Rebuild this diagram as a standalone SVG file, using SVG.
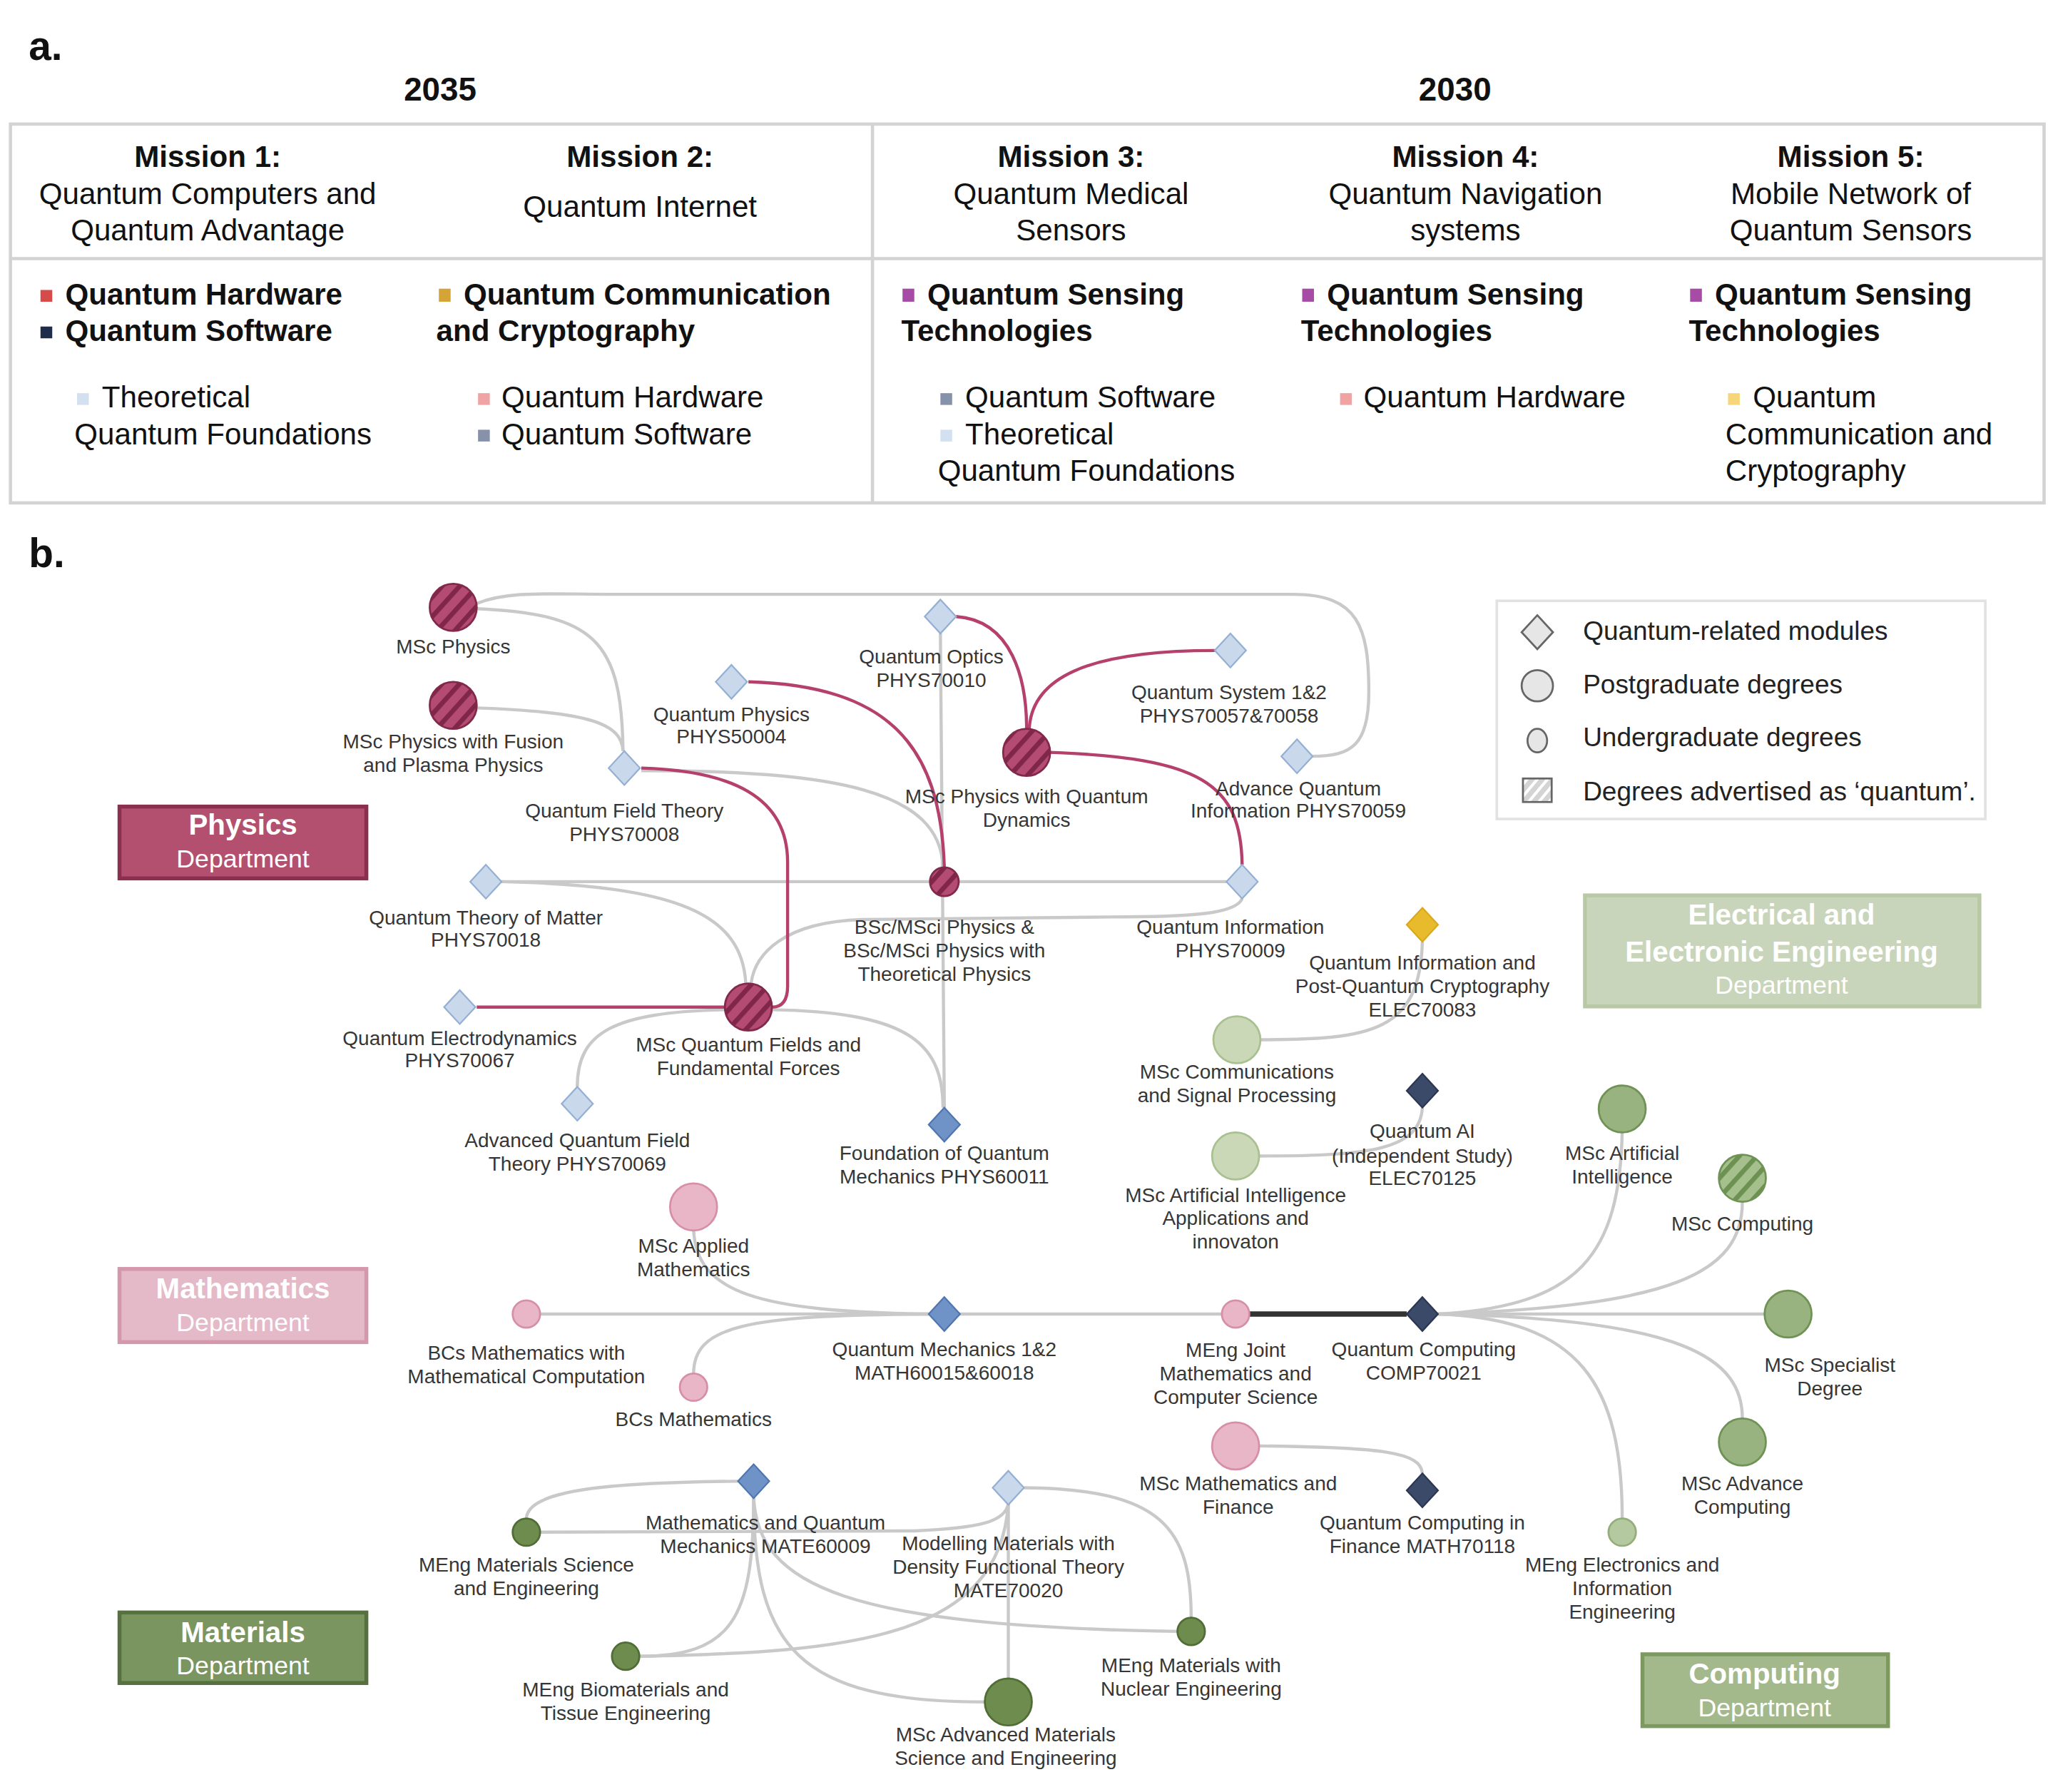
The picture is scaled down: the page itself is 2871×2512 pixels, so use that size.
<svg xmlns="http://www.w3.org/2000/svg" width="2871" height="2512" viewBox="0 0 2871 2512">
<defs>
<style>
text{font-family:"Liberation Sans",Arial,sans-serif}
.t{font-size:23px;fill:#111}
.tb{font-size:23px;font-weight:bold;fill:#111}
.tc{text-anchor:middle}
.lbl{font-size:15.3px;fill:#363636;text-anchor:middle}
.leg{font-size:20.2px;fill:#222}
.e{fill:none;stroke:#c9c9c9;stroke-width:2.4}
.r{fill:none;stroke:#b5406b;stroke-width:2.4}
.k{fill:none;stroke:#333;stroke-width:4}
.grid{fill:none;stroke:#d3d3d3;stroke-width:2.5}
.mod{fill:#c9d8ea;stroke:#93afd3;stroke-width:1.2}
.modd{fill:#6f93c6;stroke:#4f76b0;stroke-width:1.2}
.navy{fill:#3b4a68;stroke:#2a3652;stroke-width:1.2}
.gold{fill:#e8bb2c;stroke:#d9a91d;stroke-width:1.2}
.phy{fill:url(#hp);stroke:#82284b;stroke-width:1.5}
.pk{fill:#e8b6c6;stroke:#d78fa9;stroke-width:1.5}
.eee{fill:#cad8b8;stroke:#a9c090;stroke-width:1.5}
.cg{fill:#98b380;stroke:#6f9255;stroke-width:1.5}
.cgh{fill:url(#hg);stroke:#6f9255;stroke-width:1.5}
.cgl{fill:#b5c9a0;stroke:#93ae7b;stroke-width:1.5}
.mg{fill:#6e8c4e;stroke:#4f6d35;stroke-width:1.5}
.sq{stroke:none}
.dh{font-size:22px;font-weight:bold;fill:#fff;text-anchor:middle}
.dd{font-size:19.5px;fill:#fff;text-anchor:middle}
</style>
<pattern id="hp" patternUnits="userSpaceOnUse" width="10" height="10" patternTransform="rotate(42)">
<rect width="10" height="10" fill="#b34b72"/>
<rect width="3.6" height="10" fill="#7f2649"/>
</pattern>
<pattern id="hg" patternUnits="userSpaceOnUse" width="10" height="10" patternTransform="rotate(42)">
<rect width="10" height="10" fill="#a6c08d"/>
<rect width="3.6" height="10" fill="#6d9152"/>
</pattern>
<pattern id="hl" patternUnits="userSpaceOnUse" width="6" height="6" patternTransform="rotate(40)">
<rect width="6" height="6" fill="#d4d4d4"/>
<rect width="2.2" height="6" fill="#ffffff"/>
</pattern>
<path id="dia" d="M0,-13 L12,0 L0,13 L-12,0Z"/>
</defs>
<rect width="2871" height="2512" fill="#ffffff"/>
<g transform="scale(1.831)">

<g id="panel-a">
<text x="22" y="46" style="font-size:31px;font-weight:bold;fill:#111">a.</text>
<text x="337" y="77" class="tb tc" style="font-size:25px">2035</text>
<text x="1114" y="77" class="tb tc" style="font-size:25px">2030</text>
<rect x="8" y="95" width="1557" height="290" class="grid"/>
<line x1="668" y1="95" x2="668" y2="385" class="grid"/>
<line x1="8" y1="198" x2="1565" y2="198" class="grid"/>

<text x="159" y="128" class="tb tc">Mission 1:</text>
<text x="159" y="156" class="t tc">Quantum Computers and</text>
<text x="159" y="184" class="t tc">Quantum Advantage</text>
<text x="490" y="128" class="tb tc">Mission 2:</text>
<text x="490" y="166" class="t tc">Quantum Internet</text>
<text x="820" y="128" class="tb tc">Mission 3:</text>
<text x="820" y="156" class="t tc">Quantum Medical</text>
<text x="820" y="184" class="t tc">Sensors</text>
<text x="1122" y="128" class="tb tc">Mission 4:</text>
<text x="1122" y="156" class="t tc">Quantum Navigation</text>
<text x="1122" y="184" class="t tc">systems</text>
<text x="1417" y="128" class="tb tc">Mission 5:</text>
<text x="1417" y="156" class="t tc">Mobile Network of</text>
<text x="1417" y="184" class="t tc">Quantum Sensors</text>

<rect x="31" y="222" width="9" height="9" class="sq" fill="#d64a4a"/>
<text x="50" y="233" class="tb">Quantum Hardware</text>
<rect x="31" y="250" width="9" height="9" class="sq" fill="#1f2d4a"/>
<text x="50" y="261" class="tb">Quantum Software</text>
<rect x="59" y="301" width="9" height="9" class="sq" fill="#d3e0ef"/>
<text x="78" y="312" class="t">Theoretical</text>
<text x="57" y="340" class="t">Quantum Foundations</text>

<rect x="336" y="221" width="9" height="10" class="sq" fill="#d4a437"/>
<text x="355" y="233" class="tb">Quantum Communication</text>
<text x="334" y="261" class="tb">and Cryptography</text>
<rect x="366" y="301" width="9" height="9" class="sq" fill="#f0a3a3"/>
<text x="384" y="312" class="t">Quantum Hardware</text>
<rect x="366" y="329" width="9" height="9" class="sq" fill="#8592aa"/>
<text x="384" y="340" class="t">Quantum Software</text>

<rect x="691" y="221" width="9" height="10" class="sq" fill="#a64ca6"/>
<text x="710" y="233" class="tb">Quantum Sensing</text>
<text x="690" y="261" class="tb">Technologies</text>
<rect x="720" y="301" width="9" height="9" class="sq" fill="#8592aa"/>
<text x="739" y="312" class="t">Quantum Software</text>
<rect x="720" y="329" width="9" height="9" class="sq" fill="#d3e0ef"/>
<text x="739" y="340" class="t">Theoretical</text>
<text x="718" y="368" class="t">Quantum Foundations</text>

<rect x="997" y="221" width="9" height="10" class="sq" fill="#a64ca6"/>
<text x="1016" y="233" class="tb">Quantum Sensing</text>
<text x="996" y="261" class="tb">Technologies</text>
<rect x="1026" y="301" width="9" height="9" class="sq" fill="#f0a3a3"/>
<text x="1044" y="312" class="t">Quantum Hardware</text>

<rect x="1294" y="221" width="9" height="10" class="sq" fill="#a64ca6"/>
<text x="1313" y="233" class="tb">Quantum Sensing</text>
<text x="1293" y="261" class="tb">Technologies</text>
<rect x="1323" y="301" width="9" height="9" class="sq" fill="#f5d77a"/>
<text x="1342" y="312" class="t">Quantum</text>
<text x="1321" y="340" class="t">Communication and</text>
<text x="1321" y="368" class="t">Cryptography</text>
</g>

<text x="22" y="434" style="font-size:31px;font-weight:bold;fill:#111">b.</text>

<g id="legend">
<rect x="1146" y="460" width="374" height="167" fill="#fff" stroke="#e2e2e2" stroke-width="2"/>
<path d="M1177,471 L1189,484 L1177,497 L1165,484Z" fill="#e6e6e6" stroke="#666" stroke-width="1.5"/>
<text x="1212" y="490" class="leg">Quantum-related modules</text>
<circle cx="1177" cy="525" r="12" fill="#e6e6e6" stroke="#666" stroke-width="1.5"/>
<text x="1212" y="531" class="leg">Postgraduate degrees</text>
<ellipse cx="1177" cy="567" rx="7.5" ry="9" fill="#e6e6e6" stroke="#666" stroke-width="1.5"/>
<text x="1212" y="571" class="leg">Undergraduate degrees</text>
<rect x="1166" y="596" width="22" height="18" fill="url(#hl)" stroke="#666" stroke-width="1.5"/>
<text x="1212" y="613" class="leg">Degrees advertised as ‘quantum’.</text>
</g>

<g id="dept-physics">
<rect x="91.5" y="617.5" width="189" height="55" fill="#b4506f" stroke="#8a2f50" stroke-width="3"/>
<text x="186" y="639" class="dh">Physics</text>
<text x="186" y="664" class="dd">Department</text>
</g>
<g id="dept-math">
<rect x="91.5" y="971.5" width="189" height="56" fill="#e4b9c8" stroke="#d497ab" stroke-width="3"/>
<text x="186" y="994" class="dh">Mathematics</text>
<text x="186" y="1019" class="dd">Department</text>
</g>
<g id="dept-materials">
<rect x="91.5" y="1234.5" width="189" height="54" fill="#7a955f" stroke="#56703f" stroke-width="3"/>
<text x="186" y="1257" class="dh">Materials</text>
<text x="186" y="1282" class="dd">Department</text>
</g>
<g id="dept-eee">
<rect x="1213.5" y="685.5" width="302" height="85" fill="#c9d5ba" stroke="#b9c9a6" stroke-width="3"/>
<text x="1364" y="708" class="dh">Electrical and</text>
<text x="1364" y="736" class="dh">Electronic Engineering</text>
<text x="1364" y="761" class="dd">Department</text>
</g>
<g id="dept-computing">
<rect x="1257.5" y="1266.5" width="188" height="55" fill="#a4b98b" stroke="#7c9a60" stroke-width="3"/>
<text x="1351" y="1289" class="dh">Computing</text>
<text x="1351" y="1314" class="dd">Department</text>
</g>

<g id="connectors">
<path class="e" d="M365,462 C390,452 420,455 470,455 L990,455 C1040,455 1048,480 1048,530 C1048,570 1035,579 1005,579"/>
<path class="e" d="M365,466 C455,470 476,490 477,575"/>
<path class="e" d="M365,542 C455,545 476,555 477,575"/>
<path class="e" d="M491,590 C640,590 720,605 722,664"/>
<path class="e" d="M720,485 L723,848"/>
<path class="e" d="M384,675 L939,675"/>
<path class="e" d="M384,675 C520,678 568,700 571,753"/>
<path class="e" d="M951,688 C946,700 910,702 850,702 L660,704 C600,706 578,730 575,753"/>
<path class="e" d="M555,773 C470,775 442,790 442,832"/>
<path class="e" d="M591,773 C690,775 722,795 722,848"/>
<path class="r" d="M491,588 C560,590 603,610 603,660 L603,755 C603,767 598,771 591,771"/>
<path class="r" d="M573,522 C680,525 720,570 723,664"/>
<path class="r" d="M732,472 C775,475 786,520 786,558"/>
<path class="r" d="M930,498 C830,498 790,520 788,558"/>
<path class="r" d="M803,576 C920,580 950,600 951,662"/>
<path class="r" d="M365,771 L555,771"/>

<path class="e" d="M965,796 C1050,796 1087,790 1089,721"/>
<path class="e" d="M964,885 C1050,885 1087,880 1089,848"/>

<path class="e" d="M531,941 C533,990 580,1004 711,1006"/>
<path class="e" d="M531,1052 C531,1015 570,1007 711,1006"/>
<path class="e" d="M413,1006 L937,1006"/>
<path class="k" d="M956,1006 L1077,1006"/>
<path class="e" d="M964,1107 C1060,1108 1088,1112 1089,1128"/>

<path class="e" d="M1101,1006 C1210,1000 1240,960 1242,866"/>
<path class="e" d="M1101,1006 C1280,1000 1334,975 1334,920"/>
<path class="e" d="M1101,1006 L1351,1006"/>
<path class="e" d="M1101,1006 C1290,1010 1334,1040 1334,1086"/>
<path class="e" d="M1101,1006 C1210,1010 1242,1060 1242,1163"/>

<path class="e" d="M565,1134 C470,1135 403,1140 403,1163"/>
<path class="e" d="M413,1173 L700,1172 C750,1170 770,1165 772,1151"/>
<path class="e" d="M577,1146 C577,1240 560,1268 489,1268"/>
<path class="e" d="M489,1268 C650,1265 765,1255 772,1151"/>
<path class="e" d="M577,1146 C577,1260 610,1303 754,1303"/>
<path class="e" d="M577,1146 C580,1215 650,1245 902,1249"/>
<path class="e" d="M772,1151 L772,1285"/>
<path class="e" d="M784,1139 C890,1140 912,1170 912,1239"/>
</g>

<g id="n-msc-physics"><circle cx="347" cy="465" r="18" class="phy"/><text x="347" y="500" class="lbl">MSc Physics</text></g>
<g id="n-msc-fusion"><circle cx="347" cy="540" r="18" class="phy"/><text x="347" y="573" class="lbl">MSc Physics with Fusion</text><text x="347" y="591" class="lbl">and Plasma Physics</text></g>
<g id="n-qft"><use href="#dia" x="478" y="588" class="mod"/><text x="478" y="626" class="lbl">Quantum Field Theory</text><text x="478" y="644" class="lbl">PHYS70008</text></g>
<g id="n-qphys"><use href="#dia" x="560" y="522" class="mod"/><text x="560" y="552" class="lbl">Quantum Physics</text><text x="560" y="569" class="lbl">PHYS50004</text></g>
<g id="n-qoptics"><use href="#dia" x="720" y="472" class="mod"/><text x="713" y="508" class="lbl">Quantum Optics</text><text x="713" y="526" class="lbl">PHYS70010</text></g>
<g id="n-msc-qd"><circle cx="786" cy="576" r="18" class="phy"/><text x="786" y="615" class="lbl">MSc Physics with Quantum</text><text x="786" y="633" class="lbl">Dynamics</text></g>
<g id="n-qsys"><use href="#dia" x="942" y="498" class="mod"/><text x="941" y="535" class="lbl">Quantum System 1&amp;2</text><text x="941" y="553" class="lbl">PHYS70057&amp;70058</text></g>
<g id="n-aqi"><use href="#dia" x="993" y="579" class="mod"/><text x="994" y="609" class="lbl">Advance Quantum</text><text x="994" y="626" class="lbl">Information PHYS70059</text></g>
<g id="n-bsc-physics"><circle cx="723" cy="675" r="11" class="phy"/><text x="723" y="715" class="lbl">BSc/MSci Physics &amp;</text><text x="723" y="733" class="lbl">BSc/MSci Physics with</text><text x="723" y="751" class="lbl">Theoretical Physics</text></g>
<g id="n-qtm"><use href="#dia" x="372" y="675" class="mod"/><text x="372" y="708" class="lbl">Quantum Theory of Matter</text><text x="372" y="725" class="lbl">PHYS70018</text></g>
<g id="n-qi"><use href="#dia" x="951" y="675" class="mod"/><text x="942" y="715" class="lbl">Quantum Information</text><text x="942" y="733" class="lbl">PHYS70009</text></g>
<g id="n-msc-qf"><circle cx="573" cy="771" r="18" class="phy"/><text x="573" y="805" class="lbl">MSc Quantum Fields and</text><text x="573" y="823" class="lbl">Fundamental Forces</text></g>
<g id="n-qed"><use href="#dia" x="352" y="771" class="mod"/><text x="352" y="800" class="lbl">Quantum Electrodynamics</text><text x="352" y="817" class="lbl">PHYS70067</text></g>
<g id="n-aqft"><use href="#dia" x="442" y="845" class="mod"/><text x="442" y="878" class="lbl">Advanced Quantum Field</text><text x="442" y="896" class="lbl">Theory PHYS70069</text></g>
<g id="n-fqm"><use href="#dia" x="723" y="861" class="modd"/><text x="723" y="888" class="lbl">Foundation of Quantum</text><text x="723" y="906" class="lbl">Mechanics PHYS60011</text></g>

<g id="n-qipqc"><use href="#dia" x="1089" y="708" class="gold"/><text x="1089" y="742" class="lbl">Quantum Information and</text><text x="1089" y="760" class="lbl">Post-Quantum Cryptography</text><text x="1089" y="778" class="lbl">ELEC70083</text></g>
<g id="n-msc-comms"><circle cx="947" cy="796" r="18" class="eee"/><text x="947" y="826" class="lbl">MSc Communications</text><text x="947" y="844" class="lbl">and Signal Processing</text></g>
<g id="n-qai"><use href="#dia" x="1089" y="835" class="navy"/><text x="1089" y="871" class="lbl">Quantum AI</text><text x="1089" y="890" class="lbl">(Independent Study)</text><text x="1089" y="907" class="lbl">ELEC70125</text></g>
<g id="n-msc-aiapp"><circle cx="946" cy="885" r="18" class="eee"/><text x="946" y="920" class="lbl">MSc Artificial Intelligence</text><text x="946" y="938" class="lbl">Applications and</text><text x="946" y="956" class="lbl">innovaton</text></g>

<g id="n-msc-ai"><circle cx="1242" cy="849" r="18" class="cg"/><text x="1242" y="888" class="lbl">MSc Artificial</text><text x="1242" y="906" class="lbl">Intelligence</text></g>
<g id="n-msc-computing"><circle cx="1334" cy="902" r="18" class="cgh"/><text x="1334" y="942" class="lbl">MSc Computing</text></g>
<g id="n-msc-specialist"><circle cx="1369" cy="1006" r="18" class="cg"/><text x="1401" y="1050" class="lbl">MSc Specialist</text><text x="1401" y="1068" class="lbl">Degree</text></g>
<g id="n-msc-advcomp"><circle cx="1334" cy="1104" r="18" class="cg"/><text x="1334" y="1141" class="lbl">MSc Advance</text><text x="1334" y="1159" class="lbl">Computing</text></g>
<g id="n-meng-elec"><circle cx="1242" cy="1173" r="10.5" class="cgl"/><text x="1242" y="1203" class="lbl">MEng Electronics and</text><text x="1242" y="1221" class="lbl">Information</text><text x="1242" y="1239" class="lbl">Engineering</text></g>

<g id="n-msc-appmath"><circle cx="531" cy="924" r="18" class="pk"/><text x="531" y="959" class="lbl">MSc Applied</text><text x="531" y="977" class="lbl">Mathematics</text></g>
<g id="n-bcs-mathcomp"><circle cx="403" cy="1006" r="10.5" class="pk"/><text x="403" y="1041" class="lbl">BCs Mathematics with</text><text x="403" y="1059" class="lbl">Mathematical Computation</text></g>
<g id="n-bcs-math"><circle cx="531" cy="1062" r="10.5" class="pk"/><text x="531" y="1092" class="lbl">BCs Mathematics</text></g>
<g id="n-qm12"><use href="#dia" x="723" y="1006" class="modd"/><text x="723" y="1038" class="lbl">Quantum Mechanics 1&amp;2</text><text x="723" y="1056" class="lbl">MATH60015&amp;60018</text></g>
<g id="n-meng-joint"><circle cx="946" cy="1006" r="10.5" class="pk"/><text x="946" y="1039" class="lbl">MEng Joint</text><text x="946" y="1057" class="lbl">Mathematics and</text><text x="946" y="1075" class="lbl">Computer Science</text></g>
<g id="n-qc"><use href="#dia" x="1089" y="1006" class="navy"/><text x="1090" y="1038" class="lbl">Quantum Computing</text><text x="1090" y="1056" class="lbl">COMP70021</text></g>
<g id="n-msc-mathfin"><circle cx="946" cy="1107" r="18" class="pk"/><text x="948" y="1141" class="lbl">MSc Mathematics and</text><text x="948" y="1159" class="lbl">Finance</text></g>
<g id="n-qcf"><use href="#dia" x="1089" y="1141" class="navy"/><text x="1089" y="1171" class="lbl">Quantum Computing in</text><text x="1089" y="1189" class="lbl">Finance MATH70118</text></g>

<g id="n-mate60009"><use href="#dia" x="577" y="1134" class="modd"/><text x="586" y="1171" class="lbl">Mathematics and Quantum</text><text x="586" y="1189" class="lbl">Mechanics MATE60009</text></g>
<g id="n-dft"><use href="#dia" x="772" y="1139" class="mod"/><text x="772" y="1187" class="lbl">Modelling Materials with</text><text x="772" y="1205" class="lbl">Density Functional Theory</text><text x="772" y="1223" class="lbl">MATE70020</text></g>
<g id="n-meng-matsci"><circle cx="403" cy="1173" r="10.5" class="mg"/><text x="403" y="1203" class="lbl">MEng Materials Science</text><text x="403" y="1221" class="lbl">and Engineering</text></g>
<g id="n-meng-bio"><circle cx="479" cy="1268" r="10.5" class="mg"/><text x="479" y="1299" class="lbl">MEng Biomaterials and</text><text x="479" y="1317" class="lbl">Tissue Engineering</text></g>
<g id="n-msc-advmat"><circle cx="772" cy="1303" r="18" class="mg"/><text x="770" y="1333" class="lbl">MSc Advanced Materials</text><text x="770" y="1351" class="lbl">Science and Engineering</text></g>
<g id="n-meng-nuclear"><circle cx="912" cy="1249" r="10.5" class="mg"/><text x="912" y="1280" class="lbl">MEng Materials with</text><text x="912" y="1298" class="lbl">Nuclear Engineering</text></g>
</g>
</svg>
